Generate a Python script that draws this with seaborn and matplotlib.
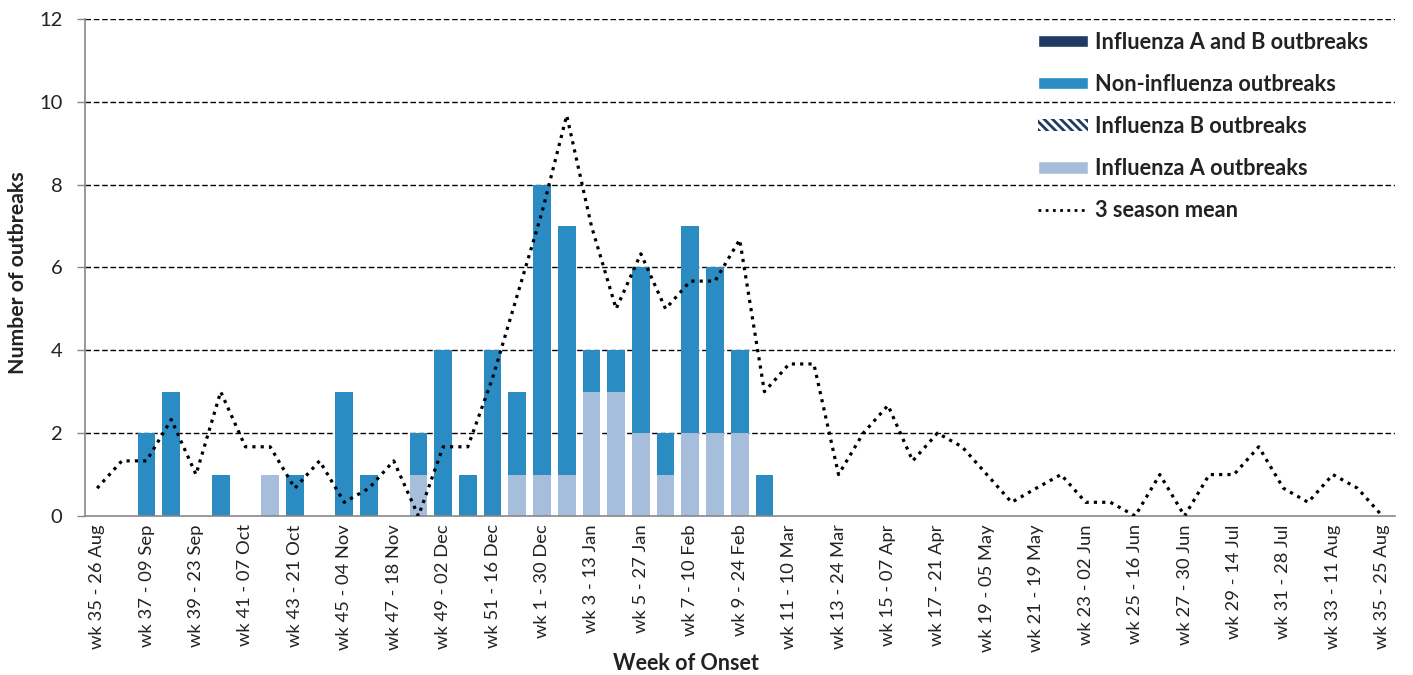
import matplotlib.pyplot as plt
import numpy as np
import pandas as pd
import seaborn as sns
from matplotlib.patches import Patch
from matplotlib.lines import Line2D

# Week categories: wk 35 (2018) to wk 35 (2019), week start dates
week_nums = list(range(35, 53)) + list(range(1, 36))
week_start = pd.date_range('2018-08-26', periods=53, freq='7D')
week_labels = [f'wk {w} - {d.strftime("%d %b")}' for w, d in zip(week_nums, week_start)]

# outbreak counts per week
flu_a = [0, 0, 0, 0, 0, 0, 0, 1, 0, 0,
         0, 0, 0, 1, 0, 0, 0, 1, 1, 1,
         3, 3, 2, 1, 2, 2, 2, 0, 0, 0,
         0, 0, 0, 0, 0, 0, 0, 0, 0, 0,
         0, 0, 0, 0, 0, 0, 0, 0, 0, 0,
         0, 0, 0]
flu_b = [0] * 53
non_flu = [0, 0, 2, 3, 0, 1, 0, 0, 1, 0,
           3, 1, 0, 1, 4, 1, 4, 2, 7, 6,
           1, 1, 4, 1, 5, 4, 2, 1, 0, 0,
           0, 0, 0, 0, 0, 0, 0, 0, 0, 0,
           0, 0, 0, 0, 0, 0, 0, 0, 0, 0,
           0, 0, 0]
flu_ab = [0] * 53
season_mean = [0.67, 1.33, 1.33, 2.33, 1.0, 3.0, 1.67, 1.67, 0.67, 1.33,
               0.33, 0.67, 1.33, 0.0, 1.67, 1.67, 3.33, 5.33, 7.33, 9.67,
               7.0, 5.0, 6.33, 5.0, 5.67, 5.67, 6.67, 3.0, 3.67, 3.67,
               1.0, 2.0, 2.67, 1.33, 2.0, 1.67, 1.0, 0.33, 0.67, 1.0,
               0.33, 0.33, 0.0, 1.0, 0.0, 1.0, 1.0, 1.67, 0.67, 0.33,
               1.0, 0.67, 0.0]

c_ab = '#1f3a63'
c_non = '#2b8bc3'
c_b = '#1f3a63'
c_a = '#a6bedc'

df = pd.DataFrame({'week': week_labels, 'A': flu_a, 'B': flu_b,
                   'Non': non_flu, 'AB': flu_ab, 'mean': season_mean})
df['lvl_a'] = df['A']
df['lvl_b'] = df['lvl_a'] + df['B']
df['lvl_non'] = df['lvl_b'] + df['Non']
df['lvl_ab'] = df['lvl_non'] + df['AB']

sns.set_style('white')
plt.rcParams['font.family'] = ['Lato', 'DejaVu Sans']
plt.rcParams['hatch.linewidth'] = 2.0

fig = plt.figure(figsize=(14.13, 6.75), dpi=100)
ax = fig.add_axes([0.060, 0.2356, 0.927, 0.7364])

# stacked bars drawn as cumulative layers, top layer first
bw = 0.72
sns.barplot(data=df, x='week', y='lvl_ab', order=week_labels, color=c_ab,
            saturation=1, width=bw, ax=ax, zorder=2, linewidth=0)
sns.barplot(data=df, x='week', y='lvl_non', order=week_labels, color=c_non,
            saturation=1, width=bw, ax=ax, zorder=2, linewidth=0)
sns.barplot(data=df, x='week', y='lvl_b', order=week_labels, color='white',
            saturation=1, width=bw, ax=ax, zorder=2, hatch='\\\\\\', edgecolor=c_b, linewidth=0)
sns.barplot(data=df, x='week', y='lvl_a', order=week_labels, color=c_a,
            saturation=1, width=bw, ax=ax, zorder=2, linewidth=0)

sns.lineplot(x=np.arange(len(week_labels)), y=df['mean'], color='black',
             linestyle=(0, (1, 1.6)), linewidth=2.3, ax=ax, zorder=3)

ax.set_xlim(-0.5, 52.5)
ax.set_ylim(0, 12)
ax.set_yticks(range(0, 13, 2))
ax.set_xticks(range(0, 53, 2))
ax.set_xticklabels(week_labels[::2], rotation=90, fontsize=13.2, color='#222222')
ax.set_xticks(np.arange(-0.5, 53, 1), minor=True)
ax.tick_params(axis='x', which='major', length=0, pad=6)
ax.tick_params(axis='x', which='minor', length=6, color='#888888', width=1)
ax.tick_params(axis='y', length=6, color='#888888', width=1, labelsize=14.5,
               labelcolor='#222222', left=True, pad=10)

for y in range(2, 13, 2):
    ax.axhline(y, color='black', linestyle=(0, (4, 2)), linewidth=1, zorder=1)

for s in ['top', 'right']:
    ax.spines[s].set_visible(False)
for s in ['left', 'bottom']:
    ax.spines[s].set_color('#888888')
    ax.spines[s].set_linewidth(1.2)

ax.set_xlabel('Week of Onset', fontsize=15.5, fontweight='bold', color='#222222')
ax.xaxis.set_label_coords(0.459, -0.276)
ax.set_ylabel('Number of outbreaks', fontsize=15.3, fontweight='bold', color='#222222')
ax.yaxis.set_label_coords(-0.0435, 0.49)

handles = [Patch(facecolor=c_ab, label='Influenza A and B outbreaks'),
           Patch(facecolor=c_non, label='Non-influenza outbreaks'),
           Patch(facecolor='white', hatch='\\\\\\\\', edgecolor=c_b, linewidth=0,
                 label='Influenza B outbreaks'),
           Patch(facecolor=c_a, label='Influenza A outbreaks'),
           Line2D([0], [0], color='black', linestyle=(0, (1, 1.6)), linewidth=2,
                  label='3 season mean')]
leg = ax.legend(handles=handles, loc='upper left', bbox_to_anchor=(0.716, 1.005),
                frameon=False, prop={'weight': 'bold', 'size': 15.7},
                handlelength=2.3, handleheight=0.5, labelspacing=0.97,
                handletextpad=0.3, borderaxespad=0.3)
for t in leg.get_texts():
    t.set_color('#222222')

fig.savefig('out.png', dpi=100)
